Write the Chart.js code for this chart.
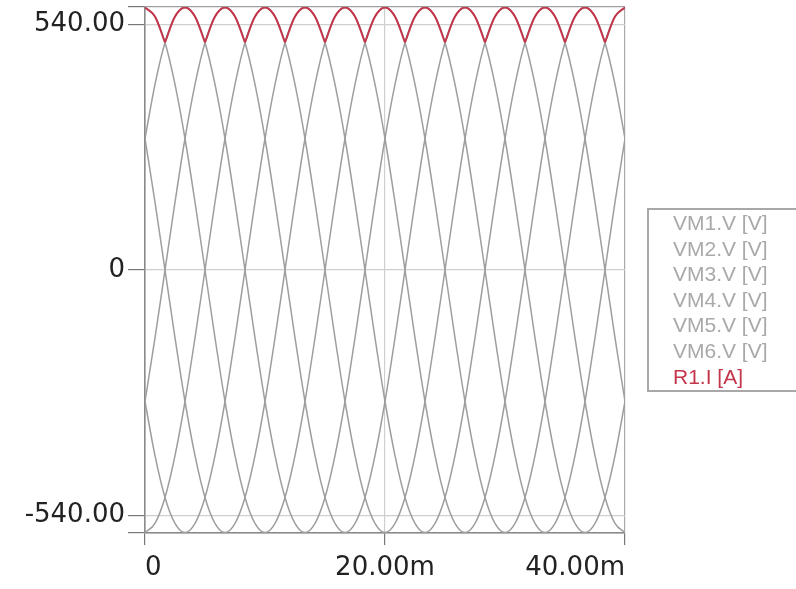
<html>
<head>
<script src="https://cdn.jsdelivr.net/npm/chart.js"></script>
<style>
  body { margin: 0; background: #fff; overflow: hidden; }
  #wrap { position: relative; width: 796px; height: 589px; }
  #legend {
    position: absolute; left: 647px; top: 208px; width: 160px; height: 184px;
    border: 2px solid #a8a8a8; box-sizing: border-box;
    font-family: "Liberation Sans", Arial, sans-serif; font-size: 21px;
    padding: 0 0 0 24px;
  }
  #legend div { line-height: 25.6px; height: 25.6px; white-space: nowrap; }
</style>
</head>
<body>
<div id="wrap">
  <canvas id="chart"></canvas>
  <div id="legend"></div>
</div>
<script>
// time in ms, 15 degree steps of a 50 Hz wave
const timeMs = [0, 0.833, 1.667, 2.5, 3.333, 4.167, 5, 5.833, 6.667, 7.5, 8.333, 9.167,
  10, 10.833, 11.667, 12.5, 13.333, 14.167, 15, 15.833, 16.667, 17.5, 18.333, 19.167,
  20, 20.833, 21.667, 22.5, 23.333, 24.167, 25, 25.833, 26.667, 27.5, 28.333, 29.167,
  30, 30.833, 31.667, 32.5, 33.333, 34.167, 35, 35.833, 36.667, 37.5, 38.333, 39.167, 40];

const vm1 = [577, 557, 500, 408, 289, 149, 0, -149, -289, -408, -500, -557, -577, -557, -500, -408, -289, -149, 0, 149, 289, 408, 500, 557,
  577, 557, 500, 408, 289, 149, 0, -149, -289, -408, -500, -557, -577, -557, -500, -408, -289, -149, 0, 149, 289, 408, 500, 557, 577];
const vm2 = [289, 408, 500, 557, 577, 557, 500, 408, 289, 149, 0, -149, -289, -408, -500, -557, -577, -557, -500, -408, -289, -149, 0, 149,
  289, 408, 500, 557, 577, 557, 500, 408, 289, 149, 0, -149, -289, -408, -500, -557, -577, -557, -500, -408, -289, -149, 0, 149, 289];
const vm3 = [-289, -149, 0, 149, 289, 408, 500, 557, 577, 557, 500, 408, 289, 149, 0, -149, -289, -408, -500, -557, -577, -557, -500, -408,
  -289, -149, 0, 149, 289, 408, 500, 557, 577, 557, 500, 408, 289, 149, 0, -149, -289, -408, -500, -557, -577, -557, -500, -408, -289];
const vm4 = [-577, -557, -500, -408, -289, -149, 0, 149, 289, 408, 500, 557, 577, 557, 500, 408, 289, 149, 0, -149, -289, -408, -500, -557,
  -577, -557, -500, -408, -289, -149, 0, 149, 289, 408, 500, 557, 577, 557, 500, 408, 289, 149, 0, -149, -289, -408, -500, -557, -577];
const vm5 = [-289, -408, -500, -557, -577, -557, -500, -408, -289, -149, 0, 149, 289, 408, 500, 557, 577, 557, 500, 408, 289, 149, 0, -149,
  -289, -408, -500, -557, -577, -557, -500, -408, -289, -149, 0, 149, 289, 408, 500, 557, 577, 557, 500, 408, 289, 149, 0, -149, -289];
const vm6 = [289, 149, 0, -149, -289, -408, -500, -557, -577, -557, -500, -408, -289, -149, 0, 149, 289, 408, 500, 557, 577, 557, 500, 408,
  289, 149, 0, -149, -289, -408, -500, -557, -577, -557, -500, -408, -289, -149, 0, 149, 289, 408, 500, 557, 577, 557, 500, 408, 289];
const r1 = [577, 557, 500, 557, 577, 557, 500, 557, 577, 557, 500, 557, 577, 557, 500, 557, 577, 557, 500, 557, 577, 557, 500, 557,
  577, 557, 500, 557, 577, 557, 500, 557, 577, 557, 500, 557, 577, 557, 500, 557, 577, 557, 500, 557, 577, 557, 500, 557, 577];
// indices where the red envelope switches phase (sharp corners)
const r1Cusps = [2, 6, 10, 14, 18, 22, 26, 30, 34, 38, 42, 46];

const seriesNames = ['VM1.V [V]', 'VM2.V [V]', 'VM3.V [V]', 'VM4.V [V]', 'VM5.V [V]', 'VM6.V [V]', 'R1.I [A]'];
const yTicks = [-578, -540, 0, 540, 578];
const yTickLabels = ['', '-540.00', '0', '540.00', ''];
const xTicks = [0, 20, 40];
const xTickLabels = ['0', '20.00m', '40.00m'];

const grey = '#9e9e9e';
const red = '#c3364b';

function toXY(vals) {
  return vals.map((v, i) => ({ x: timeMs[i], y: v }));
}
function envelopeXY(vals) {
  const out = [];
  vals.forEach((v, i) => {
    out.push({ x: timeMs[i], y: v });
    if (r1Cusps.includes(i)) {
      out.push({ x: timeMs[i], y: null });
      out.push({ x: timeMs[i], y: v });
    }
  });
  return out;
}

const greySeries = [vm1, vm2, vm3, vm4, vm5, vm6];
const datasets = greySeries.map((s, i) => ({
  label: seriesNames[i], data: toXY(s), borderColor: grey, borderWidth: 1.5, order: 2
}));
datasets.push({ label: seriesNames[6], data: envelopeXY(r1), borderColor: red, borderWidth: 2, order: 0, spanGaps: false });

const legend = document.getElementById('legend');
seriesNames.forEach((n, i) => {
  const d = document.createElement('div');
  d.textContent = n;
  d.style.color = i === 6 ? red : '#a9a9a9';
  legend.appendChild(d);
});

const tickFont = { family: 'DejaVu Sans', size: 26 };

new Chart(document.getElementById('chart'), {
  type: 'line',
  data: { datasets },
  options: {
    responsive: true,
    maintainAspectRatio: false,
    animation: false,
    layout: { padding: { top: 7, right: 171, left: 0, bottom: 0 } },
    elements: {
      point: { radius: 0 },
      line: { cubicInterpolationMode: 'monotone', fill: false }
    },
    plugins: { legend: { display: false }, tooltip: { enabled: false } },
    scales: {
      x: {
        type: 'linear', min: 0, max: 40,
        afterBuildTicks: s => { s.ticks = xTicks.map(v => ({ value: v })); },
        afterFit: s => { s.height = 56; s.paddingLeft = 0; s.paddingRight = 0; },
        grid: {
          color: ctx => ctx.index === 2 ? '#aaaaaa' : '#cfcfcf',
          tickColor: '#777', tickLength: 12, lineWidth: 1.2
        },
        border: { color: '#8a8a8a', width: 1.6 },
        ticks: {
          align: 'inner', padding: 8, maxRotation: 0, color: '#222', font: tickFont,
          callback: (v, i) => xTickLabels[i]
        }
      },
      y: {
        type: 'linear', min: -578, max: 578,
        afterBuildTicks: s => { s.ticks = yTicks.map(v => ({ value: v })); },
        afterFit: s => { s.width = 145; s.paddingTop = 0; s.paddingBottom = 0; },
        grid: {
          color: ctx => (ctx.index === 0 || ctx.index === 4) ? '#a0a0a0' : '#cfcfcf',
          tickColor: '#777', tickLength: 17, lineWidth: 1.2
        },
        border: { color: '#8a8a8a', width: 1.6 },
        ticks: {
          padding: 3, color: '#222', font: tickFont,
          callback: (v, i) => yTickLabels[i]
        }
      }
    }
  }
});
</script>
</body>
</html>
